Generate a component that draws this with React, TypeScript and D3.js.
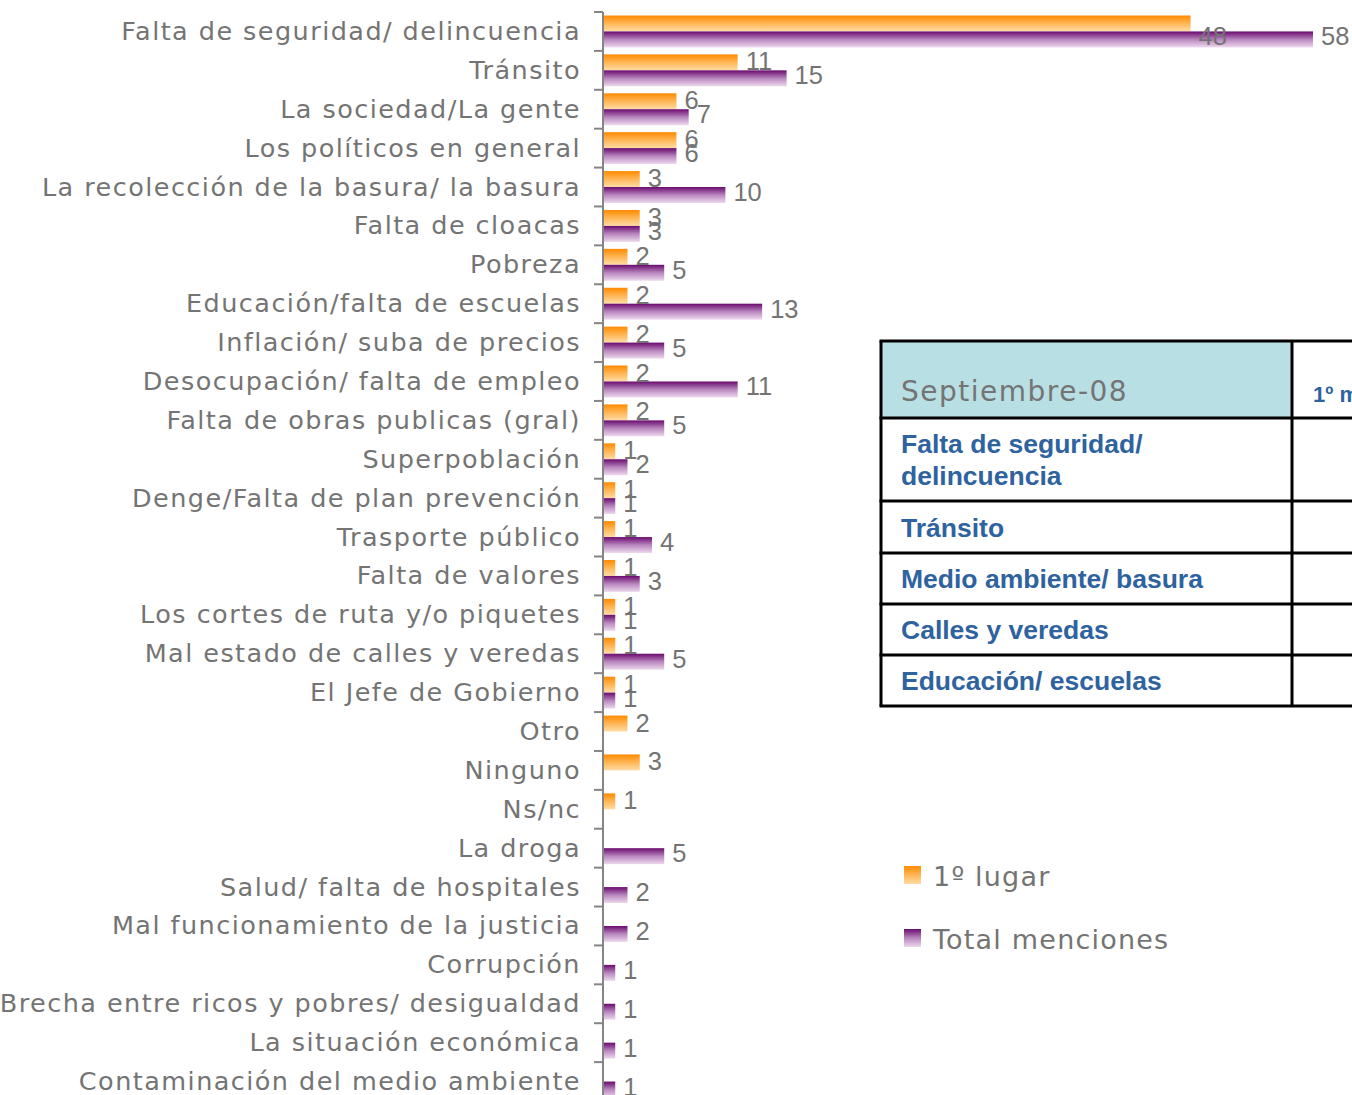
import React from "react";
import * as d3 from "d3";

const categories = [
  "Falta de seguridad/ delincuencia",
  "Tránsito",
  "La sociedad/La gente",
  "Los políticos en general",
  "La recolección de la basura/ la basura",
  "Falta de cloacas",
  "Pobreza",
  "Educación/falta de escuelas",
  "Inflación/ suba de precios",
  "Desocupación/ falta de empleo",
  "Falta de obras publicas (gral)",
  "Superpoblación",
  "Denge/Falta de plan prevención",
  "Trasporte público",
  "Falta de valores",
  "Los cortes de ruta y/o piquetes",
  "Mal estado de calles y veredas",
  "El Jefe de Gobierno",
  "Otro",
  "Ninguno",
  "Ns/nc",
  "La droga",
  "Salud/ falta de hospitales",
  "Mal funcionamiento de la justicia",
  "Corrupción",
  "Brecha entre ricos y pobres/ desigualdad",
  "La situación económica",
  "Contaminación del medio ambiente",
];

const primerLugar: (number | null)[] = [
  48, 11, 6, 6, 3, 3, 2, 2, 2, 2, 2, 1, 1, 1, 1, 1, 1, 1, 2, 3, 1,
  null, null, null, null, null, null, null,
];

const totalMenciones: (number | null)[] = [
  58, 15, 7, 6, 10, 3, 5, 13, 5, 11, 5, 2, 1, 4, 3, 1, 5, 1, null, null, null,
  5, 2, 2, 1, 1, 1, 1,
];

const seriesNames = ["1º lugar", "Total menciones"];

const tableTitle = "Septiembre-08";
const tableSecondHeader = "1º mención";
const tableRows = [
  ["Falta de seguridad/", "delincuencia"],
  ["Tránsito"],
  ["Medio ambiente/ basura"],
  ["Calles y veredas"],
  ["Educación/ escuelas"],
];

const GRAY = "#747474";
const AXIS = "#858585";
const BLUE = "#2F63A0";

export default function App() {
  const axisX = 603;
  const plotTop = 12;
  const plotBottom = 1101;
  const x = d3.scaleLinear().domain([0, 58]).range([axisX, 1313]);
  const y = d3
    .scaleBand<string>()
    .domain(categories)
    .range([plotTop, plotBottom])
    .paddingInner(0.18)
    .paddingOuter(0.09);
  const sub = d3
    .scaleBand<string>()
    .domain(seriesNames)
    .range([0, y.bandwidth()]);
  const step = y.step();
  const boundaries = d3.range(categories.length + 1).map((i) => plotTop + i * step);

  const series = [
    { name: seriesNames[0], values: primerLugar, fill: "url(#gradOrange)", dy: -1 },
    { name: seriesNames[1], values: totalMenciones, fill: "url(#gradPurple)", dy: -3 },
  ];

  // table geometry
  const tX0 = 881;
  const tX1 = 1292;
  const tX2 = 1360;
  const tY = [341, 418, 501, 553, 604, 655, 706];

  return (
    <svg width={1352} height={1095} style={{ display: "block", position: "absolute", left: 0, top: 0 }}>
      <defs>
        <linearGradient id="gradOrange" x1="0" y1="0" x2="0" y2="1">
          <stop offset="0" stopColor="#FF8A00" />
          <stop offset="0.5" stopColor="#FFB655" />
          <stop offset="1" stopColor="#FFDCA6" />
        </linearGradient>
        <linearGradient id="gradPurple" x1="0" y1="0" x2="0" y2="1">
          <stop offset="0" stopColor="#6A0A6E" />
          <stop offset="0.5" stopColor="#B886BE" />
          <stop offset="1" stopColor="#EED8EE" />
        </linearGradient>
      </defs>
      <rect x={0} y={0} width={1352} height={1095} fill="#ffffff" />

      {/* category labels */}
      {categories.map((c) => (
        <text
          key={c}
          x={581}
          y={(y(c) as number) - (step - y.bandwidth()) / 2 + step / 2 - 0.5}
          textAnchor="end"
          dominantBaseline="central"
          fontFamily="DejaVu Sans"
          fontSize={25.5}
          letterSpacing={1.45}
          fill={GRAY}
        >
          {c}
        </text>
      ))}

      {/* bars */}
      {series.map((s) =>
        categories.map((c, i) => {
          const v = s.values[i];
          if (v == null) return null;
          const by = (y(c) as number) + (sub(s.name) as number);
          const bh = sub.bandwidth();
          return (
            <rect key={s.name + c} x={x(0)} y={by} width={x(v) - x(0)} height={bh} fill={s.fill} />
          );
        })
      )}

      {/* value labels */}
      {series.map((s) =>
        categories.map((c, i) => {
          const v = s.values[i];
          if (v == null) return null;
          const by = (y(c) as number) + (sub(s.name) as number);
          const cy = Math.max(by + sub.bandwidth() / 2 + s.dy, plotTop + 24);
          return (
            <text
              key={"l" + s.name + c}
              x={x(v) + 8}
              y={cy}
              dominantBaseline="central"
              fontFamily="Liberation Sans, Arial, sans-serif"
              fontSize={25.5}
              fill={GRAY}
            >
              {v}
            </text>
          );
        })
      )}

      {/* axis */}
      <line x1={axisX} x2={axisX} y1={plotTop} y2={plotBottom} stroke={AXIS} strokeWidth={2} />
      {boundaries.map((b, i) => (
        <line key={i} x1={594} x2={axisX} y1={b} y2={b} stroke={AXIS} strokeWidth={2} />
      ))}

      {/* table */}
      <rect x={tX0} y={tY[0]} width={tX1 - tX0} height={tY[1] - tY[0]} fill="#B8DFE3" />
      {tY.map((ty, i) => (
        <line key={"h" + i} x1={tX0 - 1.5} x2={tX2} y1={ty} y2={ty} stroke="#000" strokeWidth={3} />
      ))}
      <line x1={tX0} x2={tX0} y1={tY[0]} y2={tY[6]} stroke="#000" strokeWidth={3} />
      <line x1={tX1} x2={tX1} y1={tY[0]} y2={tY[6]} stroke="#000" strokeWidth={3} />
      <text x={901} y={401} fontFamily="DejaVu Sans" fontSize={28} letterSpacing={1.5} fill={GRAY}>
        {tableTitle}
      </text>
      <text x={1313} y={402} fontFamily="Liberation Sans, Arial, sans-serif" fontWeight="bold" fontSize={22} fill={BLUE}>
        {tableSecondHeader}
      </text>
      {tableRows.map((lines, r) =>
        lines.map((ln, k) => {
          const top = tY[r + 1];
          const bottom = tY[r + 2];
          const mid = (top + bottom) / 2;
          const base = mid + 9.5 + (k - (lines.length - 1) / 2) * 32;
          return (
            <text
              key={"t" + r + k}
              x={901}
              y={base}
              fontFamily="Liberation Sans, Arial, sans-serif"
              fontWeight="bold"
              fontSize={26.5}
              fill={BLUE}
            >
              {ln}
            </text>
          );
        })
      )}

      {/* legend */}
      {seriesNames.map((n, i) => (
        <g key={n} transform={`translate(904, ${866 + i * 63})`}>
          <rect x={0} y={0} width={17} height={18} fill={i === 0 ? "url(#gradOrange)" : "url(#gradPurple)"} />
          <text
            x={29}
            y={10}
            dominantBaseline="central"
            fontFamily="DejaVu Sans"
            fontSize={27}
            letterSpacing={1.2}
            fill={GRAY}
          >
            {n}
          </text>
        </g>
      ))}
    </svg>
  );
}
